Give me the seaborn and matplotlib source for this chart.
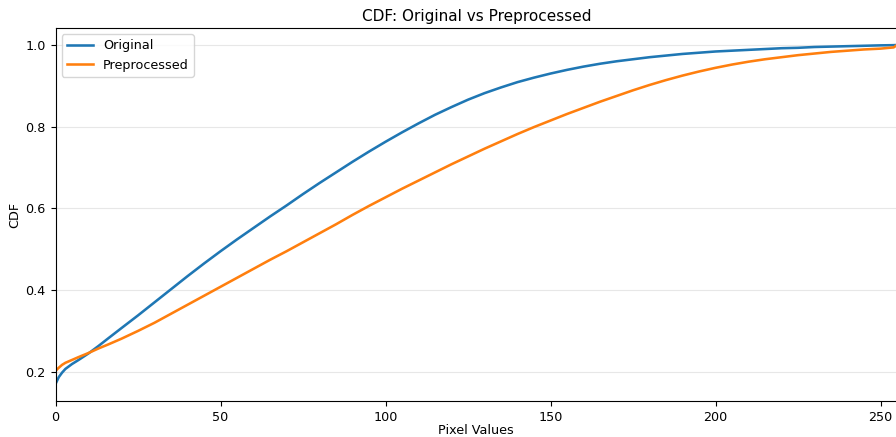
import numpy as np
import pandas as pd
import matplotlib
matplotlib.use("Agg")
import matplotlib.pyplot as plt
import seaborn as sns


# Pixel value grid and CDF values.
pixel_values = [0, 1, 2, 3, 5, 7, 10, 13, 16, 20, 25, 30, 35, 40, 45, 50,
                55, 60, 65, 70, 75, 80, 85, 90, 95, 100, 105, 110, 115, 120,
                125, 130, 135, 140, 145, 150, 155, 160, 165, 170, 175, 180,
                185, 190, 195, 200, 205, 210, 215, 220, 225, 230, 235, 240,
                245, 250, 254, 255]

cdf_original = [0.170, 0.187, 0.198, 0.207, 0.219, 0.229, 0.245, 0.263,
                0.282, 0.307, 0.338, 0.370, 0.402, 0.434, 0.465, 0.495,
                0.524, 0.552, 0.580, 0.607, 0.635, 0.662, 0.688, 0.714,
                0.739, 0.763, 0.786, 0.808, 0.829, 0.848, 0.866, 0.882,
                0.896, 0.909, 0.920, 0.930, 0.939, 0.947, 0.954, 0.960,
                0.965, 0.970, 0.974, 0.978, 0.981, 0.984, 0.986, 0.988,
                0.990, 0.992, 0.993, 0.995, 0.996, 0.997, 0.998, 0.999,
                0.9995, 1.000]

cdf_preprocessed = [0.202, 0.210, 0.217, 0.222, 0.229, 0.236, 0.246, 0.257,
                    0.267, 0.281, 0.300, 0.320, 0.342, 0.364, 0.386, 0.408,
                    0.430, 0.452, 0.474, 0.495, 0.517, 0.539, 0.561, 0.584,
                    0.606, 0.627, 0.648, 0.668, 0.688, 0.708, 0.727, 0.746,
                    0.764, 0.782, 0.799, 0.815, 0.831, 0.846, 0.861, 0.875,
                    0.889, 0.902, 0.914, 0.925, 0.935, 0.944, 0.952, 0.959,
                    0.965, 0.970, 0.975, 0.979, 0.983, 0.986, 0.989, 0.991,
                    0.994, 1.000]

series_names = ["Original", "Preprocessed"]
colors = ["#1f77b4", "#ff7f0e"]

df = pd.concat([
    pd.DataFrame({"x": pixel_values, "cdf": cdf_original, "series": series_names[0]}),
    pd.DataFrame({"x": pixel_values, "cdf": cdf_preprocessed, "series": series_names[1]}),
])

plt.rcParams.update({
    "font.size": 9.2,
    "xtick.labelsize": 9.2,
    "ytick.labelsize": 9.2,
    "axes.labelsize": 9.2,
    "legend.fontsize": 9.2,
})

fig = plt.figure(figsize=(8.96, 4.37), dpi=100)
ax = fig.add_axes([55.5 / 896, 36 / 437, (897 - 55.5) / 896, (401 - 28) / 437])

sns.lineplot(
    data=df, x="x", y="cdf", hue="series", hue_order=series_names,
    palette=colors, linewidth=1.85, ax=ax,
)

ax.set_xlim(0, 255)
ax.set_title("CDF: Original vs Preprocessed", fontsize=11, pad=5)
ax.set_xlabel("Pixel Values", labelpad=0.5)
ax.set_ylabel("CDF", labelpad=3)
ax.grid(axis="y", alpha=0.3)
ax.legend(loc="upper left", title=None)

fig.savefig("out.png", dpi=100)
